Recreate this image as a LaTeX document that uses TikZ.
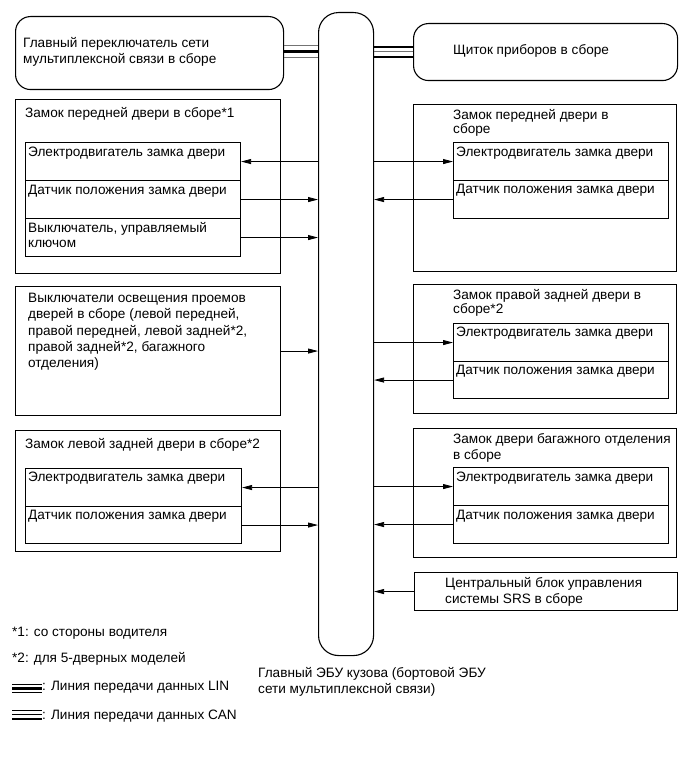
\documentclass[tikz,border=0pt]{standalone}
\usepackage{fontspec}
\setmainfont{Liberation Sans}
\usetikzlibrary{arrows.meta,calc}
\newcommand{\ml}[1]{\begin{tabular}[t]{@{}l@{}}#1\end{tabular}}
\begin{document}
\begin{tikzpicture}[x=1pt,y=-1pt,
  font=\fontsize{13.6}{16.3}\selectfont,
  box/.style={draw,line width=1.1pt,inner sep=0pt,anchor=north west},
  rbox/.style={box,rounded corners=15pt},
  txt/.style={anchor=base west,inner sep=0pt},
  arr/.style={line width=0.8pt,-{Triangle[length=10pt,width=5pt]}},
  thinbus/.style={line width=0.8pt,black!55},
  thickbus/.style={line width=2.6pt,black},
  midbus/.style={line width=2pt,black}]
\useasboundingbox (0,0) rectangle (690,759);

% central ECU
\node[box,rounded corners=20pt,minimum width=55pt,minimum height=643pt] (ecu) at (318,12) {};
\node[txt] (ecut) at (258,677.5) {\ml{Главный ЭБУ кузова (бортовой ЭБУ\\сети мультиплексной связи)}};

% top boxes
\node[rbox,minimum width=268pt,minimum height=73pt] (tl) at (15,16) {};
\node[txt] (tlt) at (23,47.5) {\ml{Главный переключатель сети\\мультиплексной связи в сборе}};
\node[rbox,minimum width=264pt,minimum height=57pt] (tr) at (413,23) {};
\node[anchor=base,inner sep=0pt] (trt) at (531,54.5) {Щиток приборов в сборе};

% LIN bus (left)
\draw[thinbus] ($(tl.east)+(0,-7.5)$) -- ($(ecu.west|-tl.east)+(0,-7.5)$);
\draw[thickbus] ($(tl.east)+(0,-1.5)$) -- ($(ecu.west|-tl.east)+(0,-1.5)$);
\draw[thinbus] ($(tl.east)+(0,4.5)$) -- ($(ecu.west|-tl.east)+(0,4.5)$);
% CAN bus (right)
\draw[midbus] ($(tr.west)+(0,-5.5)$) -- ($(ecu.east|-tr.west)+(0,-5.5)$);
\draw[thinbus] ($(tr.west)+(0,-0.5)$) -- ($(ecu.east|-tr.west)+(0,-0.5)$);
\draw[midbus] ($(tr.west)+(0,4.5)$) -- ($(ecu.east|-tr.west)+(0,4.5)$);

% L1
\node[box,minimum width=265pt,minimum height=174pt] (l1) at (15,99) {};
\node[txt] (l1t) at (25,117.5) {Замок передней двери в сборе*1};
\node[box,minimum width=215pt,minimum height=38pt] (l1a) at (25,142) {};
\node[box,minimum width=215pt,minimum height=38pt] (l1b) at (25,180) {};
\node[box,minimum width=215pt,minimum height=38pt] (l1c) at (25,218) {};
\node[txt] (l1at) at (28,156.5) {Электродвигатель замка двери};
\node[txt] (l1bt) at (28,194.5) {Датчик положения замка двери};
\node[txt] (l1ct) at (28,232.5) {\ml{Выключатель, управляемый\\[-1pt]ключом}};
\draw[arr] (ecu.west|-l1a.east) -- (l1a.east);
\draw[arr] (l1b.east) -- (ecu.west|-l1b.east);
\draw[arr] (l1c.east) -- (ecu.west|-l1c.east);

% R1
\node[box,minimum width=263pt,minimum height=167pt] (r1) at (413,104) {};
\node[txt] (r1t) at (453,119.5) {\ml{Замок передней двери в\\[-2pt]сборе}};
\node[box,minimum width=215pt,minimum height=38pt] (r1a) at (453,142) {};
\node[box,minimum width=215pt,minimum height=38pt] (r1b) at (453,180) {};
\node[txt] (r1at) at (456,156.5) {Электродвигатель замка двери};
\node[txt] (r1bt) at (456,193.5) {Датчик положения замка двери};
\draw[arr] (ecu.east|-r1a.west) -- (r1a.west);
\draw[arr] (r1b.west) -- (ecu.east|-r1b.west);

% L2
\node[box,minimum width=265pt,minimum height=129pt] (l2) at (15,286) {};
\node[txt] (l2t) at (28,302.5) {\ml{Выключатели освещения проемов\\дверей в сборе (левой передней,\\правой передней, левой задней*2,\\правой задней*2, багажного\\отделения)}};
\draw[arr] (l2.east) -- (ecu.west|-l2.east);

% R2
\node[box,minimum width=263pt,minimum height=129pt] (r2) at (413,284) {};
\node[txt] (r2t) at (453,299.5) {\ml{Замок правой задней двери в\\[-2pt]сборе*2}};
\node[box,minimum width=215pt,minimum height=38pt] (r2a) at (453,323) {};
\node[box,minimum width=215pt,minimum height=37pt] (r2b) at (453,361) {};
\node[txt] (r2at) at (456,336.5) {Электродвигатель замка двери};
\node[txt] (r2bt) at (456,374.5) {Датчик положения замка двери};
\draw[arr] (ecu.east|-r2a.west) -- (r2a.west);
\draw[arr] (r2b.west) -- (ecu.east|-r2b.west);

% L3
\node[box,minimum width=265pt,minimum height=121pt] (l3) at (15,430) {};
\node[txt] (l3t) at (25,448.5) {Замок левой задней двери в сборе*2};
\node[box,minimum width=216pt,minimum height=38pt] (l3a) at (25,468) {};
\node[box,minimum width=216pt,minimum height=37pt] (l3b) at (25,506) {};
\node[txt] (l3at) at (28,481.5) {Электродвигатель замка двери};
\node[txt] (l3bt) at (28,519.5) {Датчик положения замка двери};
\draw[arr] (ecu.west|-l3a.east) -- (l3a.east);
\draw[arr] (l3b.east) -- (ecu.west|-l3b.east);

% R3
\node[box,minimum width=263pt,minimum height=129pt] (r3) at (413,428) {};
\node[txt] (r3t) at (453,443.5) {\ml{Замок двери багажного отделения\\в сборе}};
\node[box,minimum width=215pt,minimum height=38pt] (r3a) at (453,467) {};
\node[box,minimum width=215pt,minimum height=38pt] (r3b) at (453,505) {};
\node[txt] (r3at) at (456,481.5) {Электродвигатель замка двери};
\node[txt] (r3bt) at (456,519.5) {Датчик положения замка двери};
\draw[arr] (ecu.east|-r3a.west) -- (r3a.west);
\draw[arr] (r3b.west) -- (ecu.east|-r3b.west);

% SRS
\node[box,minimum width=263pt,minimum height=38pt] (srs) at (414,572) {};
\node[txt] (srst) at (445,587.5) {\ml{Центральный блок управления\\системы SRS в сборе}};
\draw[arr] (srs.west) -- (ecu.east|-srs.west);

% legend
\node[txt] (n1) at (12,636.5) {*1: со стороны водителя};
\node[txt] (n2) at (12,662.5) {*2: для 5-дверных моделей};
\draw[line width=0.7pt] (12,684) -- (42,684);
\draw[line width=2.4pt] (12,688.5) -- (42,688.5);
\draw[line width=0.7pt] (12,692) -- (42,692);
\node[txt] (lin) at (42,690.5) {: Линия передачи данных LIN};
\draw[line width=1.2pt] (12,710.5) -- (42,710.5);
\draw[line width=1.2pt] (12,714.5) -- (42,714.5);
\draw[line width=2pt] (12,719) -- (42,719);
\node[txt] (can) at (42,719.5) {: Линия передачи данных CAN};
\end{tikzpicture}
\end{document}
